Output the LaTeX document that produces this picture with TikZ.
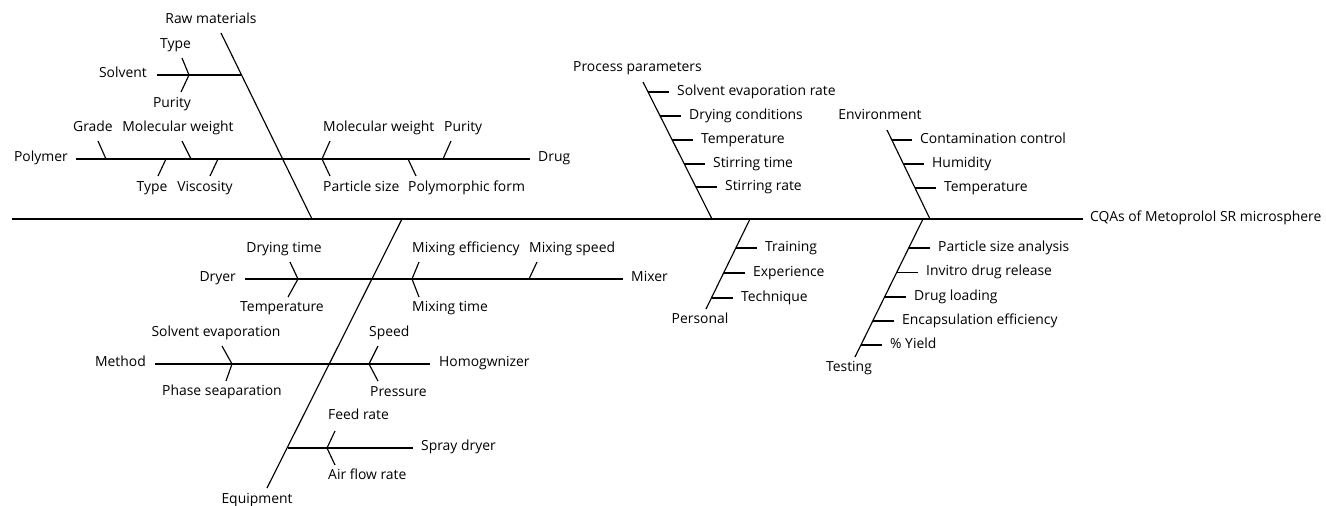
\documentclass[tikz,border=0pt]{standalone}
\usepackage{fontspec}
\setmainfont{Open Sans}
\begin{document}
\begin{tikzpicture}[x=1pt,y=-1pt,
  ln/.style={line width=1.15pt},
  lbl/.style={inner sep=0pt, text height=9.9pt, text depth=0pt, font=\fontsize{13.9}{16}\selectfont},
  lw/.style={lbl, anchor=west},
  le/.style={lbl, anchor=east}]
\useasboundingbox (0,0) rectangle (1326,506);

% ---------- spine ----------
\coordinate (sL) at (12,219);
\coordinate (sR) at (1083,219);
\draw[ln] (sL) -- (sR);
\node[lw] (head) at (1090,217) {CQAs of Metoprolol SR microsphere};

% ---------- Raw materials ----------
\coordinate (rmT) at (221,33);
\coordinate (rmB) at (312,219);
\draw[ln] (rmT) -- (rmB);
\node[lbl] (rm) at (211,19) {Raw materials};

\coordinate (svL) at (157,75);
\coordinate (svJ) at (241,75);
\draw[ln] (svL) -- (svJ);
\node[le] (sv) at (147,73) {Solvent};
\coordinate (svK) at (189,75);
\coordinate (svA) at (182,58);
\coordinate (svB) at (181,92);
\draw[ln] (svA) -- (svK) -- (svB);
\node[lbl] (svType) at (175.5,44) {Type};
\node[lbl] (svPur) at (172,103) {Purity};

\coordinate (poL) at (76,159);
\coordinate (poR) at (530,159);
\draw[ln] (poL) -- (poR);
\node[le] (po) at (68,157) {Polymer};
\node[lw] (dg) at (538,157) {Drug};

\coordinate (gA) at (98,141);   \coordinate (gB) at (106,159);
\draw[ln] (gA) -- (gB);
\node[lbl] (grade) at (93,127) {Grade};
\coordinate (mwA) at (182,141); \coordinate (mwB) at (191,159);
\draw[ln] (mwA) -- (mwB);
\node[lbl] (mw) at (178,127) {Molecular weight};
\coordinate (tyA) at (166,159); \coordinate (tyB) at (158,176);
\draw[ln] (tyA) -- (tyB);
\node[lbl] (ty) at (152,187) {Type};
\coordinate (viA) at (218,159); \coordinate (viB) at (210,176);
\draw[ln] (viA) -- (viB);
\node[lbl] (vi) at (205,187) {Viscosity};

\coordinate (mw2A) at (330,141); \coordinate (mw2B) at (322,159);
\draw[ln] (mw2A) -- (mw2B);
\node[lw] (mw2) at (323,127) {Molecular weight};
\coordinate (pu2A) at (451,141); \coordinate (pu2B) at (443,159);
\draw[ln] (pu2A) -- (pu2B);
\node[lw] (pu2) at (444,127) {Purity};
\coordinate (psA) at (322,159); \coordinate (psB) at (330,176);
\draw[ln] (psA) -- (psB);
\node[lw] (ps) at (323,187) {Particle size};
\coordinate (pfA) at (408,159); \coordinate (pfB) at (416,176);
\draw[ln] (pfA) -- (pfB);
\node[lw] (pf) at (408,187) {Polymorphic form};

% ---------- Process parameters ----------
\coordinate (ppT) at (643,82);
\coordinate (ppB) at (712,219);
\draw[ln] (ppT) -- (ppB);
\node[lbl] (pp) at (637.5,67) {Process parameters};
\coordinate (pp1a) at (648,92);  \coordinate (pp1b) at (669,92);
\draw[ln] (pp1a) -- (pp1b);
\node[lw] (pp1) at (677,90.5) {Solvent evaporation rate};
\coordinate (pp2a) at (660,116); \coordinate (pp2b) at (681,116);
\draw[ln] (pp2a) -- (pp2b);
\node[lw] (pp2) at (689,114.5) {Drying conditions};
\coordinate (pp3a) at (672,140); \coordinate (pp3b) at (693,140);
\draw[ln] (pp3a) -- (pp3b);
\node[lw] (pp3) at (701,138.5) {Temperature};
\coordinate (pp4a) at (684,164); \coordinate (pp4b) at (705,164);
\draw[ln] (pp4a) -- (pp4b);
\node[lw] (pp4) at (713,162.5) {Stirring time};
\coordinate (pp5a) at (696,187); \coordinate (pp5b) at (717,187);
\draw[ln] (pp5a) -- (pp5b);
\node[lw] (pp5) at (725,185.5) {Stirring rate};

% ---------- Environment ----------
\coordinate (enT) at (887,130);
\coordinate (enB) at (930,219);
\draw[ln] (enT) -- (enB);
\node[lbl] (en) at (880,115) {Environment};
\coordinate (en1a) at (892,140);   \coordinate (en1b) at (912,140);
\draw[ln] (en1a) -- (en1b);
\node[lw] (en1) at (920,138.5) {Contamination control};
\coordinate (en2a) at (903.5,164); \coordinate (en2b) at (924,164);
\draw[ln] (en2a) -- (en2b);
\node[lw] (en2) at (932,162.5) {Humidity};
\coordinate (en3a) at (915,188);   \coordinate (en3b) at (936,188);
\draw[ln] (en3a) -- (en3b);
\node[lw] (en3) at (944,186.5) {Temperature};

% ---------- Personal ----------
\coordinate (peT) at (750,219);
\coordinate (peB) at (706,309);
\draw[ln] (peT) -- (peB);
\node[lbl] (pe) at (700,319) {Personal};
\coordinate (pe1a) at (736,248);   \coordinate (pe1b) at (757,248);
\draw[ln] (pe1a) -- (pe1b);
\node[lw] (pe1) at (765,246.5) {Training};
\coordinate (pe2a) at (723.5,273); \coordinate (pe2b) at (745,273);
\draw[ln] (pe2a) -- (pe2b);
\node[lw] (pe2) at (753,271.5) {Experience};
\coordinate (pe3a) at (711.5,298); \coordinate (pe3b) at (733,298);
\draw[ln] (pe3a) -- (pe3b);
\node[lw] (pe3) at (741,296.5) {Technique};

% ---------- Testing ----------
\coordinate (teT) at (923,219);
\coordinate (teB) at (855,357);
\draw[ln] (teT) -- (teB);
\node[lbl] (te) at (849,367) {Testing};
\coordinate (te1a) at (908.5,248);   \coordinate (te1b) at (930,248);
\draw[ln] (te1a) -- (te1b);
\node[lw] (te1) at (938,246.5) {Particle size analysis};
\coordinate (te2a) at (896.3,272.5); \coordinate (te2b) at (918,272.5);
\draw[ln] (te2a) -- (te2b);
\node[lw] (te2) at (926,271) {Invitro drug release};
\coordinate (te3a) at (884.4,297);   \coordinate (te3b) at (906,297);
\draw[ln] (te3a) -- (te3b);
\node[lw] (te3) at (914,295.5) {Drug loading};
\coordinate (te4a) at (872.5,321);   \coordinate (te4b) at (894,321);
\draw[ln] (te4a) -- (te4b);
\node[lw] (te4) at (902,319.5) {Encapsulation efficiency};
\coordinate (te5a) at (860.7,345);   \coordinate (te5b) at (882,345);
\draw[ln] (te5a) -- (te5b);
\node[lw] (te5) at (890,343.5) {\% Yield};

% ---------- Equipment ----------
\coordinate (eqT) at (402,219);
\coordinate (eqB) at (267,488);
\draw[ln] (eqT) -- (eqB);
\node[lbl] (eq) at (257,499) {Equipment};

% Dryer / Mixer
\coordinate (drL) at (245,279);
\coordinate (drR) at (623,279);
\draw[ln] (drL) -- (drR);
\node[le] (dr) at (236,277) {Dryer};
\node[lw] (mx) at (631,277) {Mixer};
\coordinate (dtA) at (290,262); \coordinate (dtB) at (298,279);
\coordinate (tpB) at (288,297);
\draw[ln] (dtA) -- (dtB) -- (tpB);
\node[lbl] (dt) at (284,248) {Drying time};
\node[lbl] (tp) at (282,307) {Temperature};
\coordinate (meA) at (419,262); \coordinate (meB) at (412,279);
\coordinate (mtB) at (419,297);
\draw[ln] (meA) -- (meB) -- (mtB);
\node[lw] (mef) at (412,248) {Mixing efficiency};
\node[lw] (mt) at (412,307) {Mixing time};
\coordinate (msA) at (537,262); \coordinate (msB) at (529,279);
\draw[ln] (msA) -- (msB);
\node[lw] (ms) at (529,248) {Mixing speed};

% Method / Homogwnizer
\coordinate (mdL) at (155,364);
\coordinate (mdR) at (430,364);
\draw[ln] (mdL) -- (mdR);
\node[le] (md) at (146,362) {Method};
\node[lw] (hg) at (439,362) {Homogwnizer};
\coordinate (seA) at (222,346); \coordinate (seB) at (232,364);
\coordinate (phB) at (226,381);
\draw[ln] (seA) -- (seB) -- (phB);
\node[lbl] (se) at (216,332) {Solvent evaporation};
\node[lbl] (ph) at (222,391) {Phase seaparation};
\coordinate (spdA) at (378,346); \coordinate (spdB) at (369,364);
\coordinate (prB) at (378,381);
\draw[ln] (spdA) -- (spdB) -- (prB);
\node[lw] (spd) at (369,332) {Speed};
\node[lw] (pr) at (370,392) {Pressure};

% Spray dryer
\coordinate (sdL) at (288,448);
\coordinate (sdR) at (413,448);
\draw[ln] (sdL) -- (sdR);
\node[lw] (sd) at (421,446) {Spray dryer};
\coordinate (frA) at (335,431); \coordinate (frB) at (327,448);
\coordinate (afB) at (335,465);
\draw[ln] (frA) -- (frB) -- (afB);
\node[lw] (fr) at (328,415) {Feed rate};
\node[lw] (af) at (328,475) {Air flow rate};
\end{tikzpicture}
\end{document}
